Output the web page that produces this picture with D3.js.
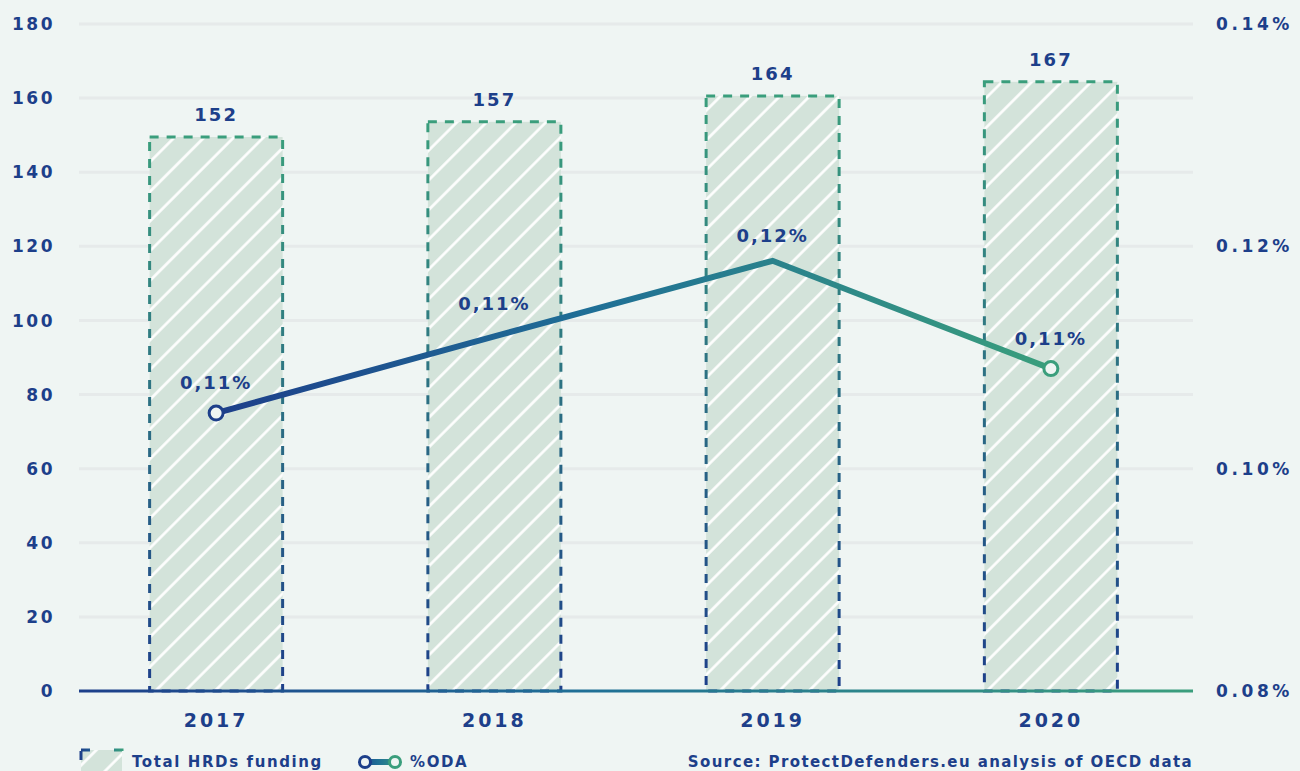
<!DOCTYPE html>
<html>
<head>
<meta charset="utf-8">
<script src="https://cdn.jsdelivr.net/npm/d3@7"></script>
<style>
  html, body { margin: 0; padding: 0; background: #eff5f3; }
  text { font-family: "DejaVu Sans", sans-serif; font-weight: bold; fill: #1d3f8a; }
</style>
</head>
<body>
<div class="chart"></div>
<script>
// data
const years = ["2017", "2018", "2019", "2020"];
const funding = [149.5, 153.6, 160.6, 164.4];       // bar heights (left axis)
const fundingLabels = ["152", "157", "164", "167"];
const oda = [0.1050, 0.1119, 0.1187, 0.1090];        // % ODA (right axis)
const odaLabels = ["0,11%", "0,11%", "0,12%", "0,11%"];
const leftTicks = [0, 20, 40, 60, 80, 100, 120, 140, 160, 180];
const rightTicks = [0.08, 0.10, 0.12, 0.14];
const legendLabels = ["Total HRDs funding", "%ODA"];
const sourceText = "Source: ProtectDefenders.eu analysis of OECD data";

const width = 1300, height = 771;
const margin = { top: 24, right: 107, bottom: 80, left: 79 };
const navy = "#1d3f8a", green = "#3a9e7c";

const svg = d3.select(".chart").append("svg")
    .attr("width", width)
    .attr("height", height);

const defs = svg.append("defs");

const hatch = defs.append("pattern")
    .attr("id", "hatch")
    .attr("patternUnits", "userSpaceOnUse")
    .attr("width", 21)
    .attr("height", 21)
    .attr("patternTransform", "rotate(45)");
hatch.append("rect").attr("width", 21).attr("height", 21).attr("fill", "#d3e3da");
hatch.append("line")
    .attr("x1", 10.5).attr("y1", 0).attr("x2", 10.5).attr("y2", 21)
    .attr("stroke", "#fff").attr("stroke-width", 2.6);

const vGrad = defs.append("linearGradient")
    .attr("id", "vgrad").attr("x1", 0).attr("y1", 0).attr("x2", 0).attr("y2", 1);
vGrad.append("stop").attr("offset", "0%").attr("stop-color", green);
vGrad.append("stop").attr("offset", "100%").attr("stop-color", navy);

x = d3.scaleBand()
    .domain(years)
    .range([77, 1190])
    .paddingInner(0.522)
    .paddingOuter(0.261);

y = d3.scaleLinear()
    .domain([0, 180])
    .range([height - margin.bottom, margin.top]);

y2 = d3.scaleLinear()
    .domain([0.08, 0.14])
    .range([height - margin.bottom, margin.top]);

const gridX0 = margin.left, gridX1 = width - margin.right;

function hGrad(id, x1, x2) {
    const g = defs.append("linearGradient")
        .attr("id", id)
        .attr("gradientUnits", "userSpaceOnUse")
        .attr("x1", x1).attr("y1", 0).attr("x2", x2).attr("y2", 0);
    g.append("stop").attr("offset", "0%").attr("stop-color", navy);
    g.append("stop").attr("offset", "45%").attr("stop-color", "#1f6f96");
    g.append("stop").attr("offset", "100%").attr("stop-color", green);
}
hGrad("lineGrad", x("2017") + x.bandwidth() / 2, x("2020") + x.bandwidth() / 2);
hGrad("baseGrad", gridX0, gridX1);
hGrad("legGrad", 358, 402);
hGrad("legBox", 80, 123);

// grid lines
svg.append("g")
    .selectAll("line")
    .data(leftTicks.slice(1))
    .join("line")
    .attr("x1", gridX0)
    .attr("x2", gridX1)
    .attr("y1", d => y(d))
    .attr("y2", d => y(d))
    .attr("stroke", "#e6eaea")
    .attr("stroke-width", 3);

// left axis
svg.append("g")
    .selectAll("text")
    .data(leftTicks)
    .join("text")
    .attr("x", 55)
    .attr("y", d => y(d))
    .attr("dy", "0.36em")
    .attr("text-anchor", "end")
    .style("font-size", "17px")
    .style("letter-spacing", "2.5px")
    .text(d => d);

// right axis
svg.append("g")
    .selectAll("text")
    .data(rightTicks)
    .join("text")
    .attr("x", 1216)
    .attr("y", d => y2(d))
    .attr("dy", "0.36em")
    .style("font-size", "17px")
    .style("letter-spacing", "3.6px")
    .text(d => d3.format(".2f")(d) + "%");

// bars
svg.append("g")
    .selectAll("rect")
    .data(funding)
    .join("rect")
    .attr("x", (d, i) => x(years[i]))
    .attr("y", d => y(d))
    .attr("width", x.bandwidth())
    .attr("height", d => y(0) - y(d))
    .attr("fill", "url(#hatch)")
    .attr("stroke", "url(#vgrad)")
    .attr("stroke-width", 3)
    .attr("stroke-dasharray", "9,8");

svg.append("g")
    .selectAll("text")
    .data(funding)
    .join("text")
    .attr("x", (d, i) => x(years[i]) + x.bandwidth() / 2)
    .attr("y", d => y(d) - 16)
    .attr("text-anchor", "middle")
    .style("font-size", "18px")
    .style("letter-spacing", "2px")
    .text((d, i) => fundingLabels[i]);

// baseline
svg.append("line")
    .attr("x1", gridX0).attr("x2", gridX1)
    .attr("y1", y(0)).attr("y2", y(0))
    .attr("stroke", "url(#baseGrad)")
    .attr("stroke-width", 3);

// year labels
svg.append("g")
    .selectAll("text")
    .data(years)
    .join("text")
    .attr("x", d => x(d) + x.bandwidth() / 2)
    .attr("y", 727)
    .attr("text-anchor", "middle")
    .style("font-size", "19px")
    .style("letter-spacing", "3px")
    .text(d => d);

// %ODA line
const line = d3.line()
    .x((d, i) => x(years[i]) + x.bandwidth() / 2)
    .y(d => y2(d));

svg.append("path")
    .datum(oda)
    .attr("d", line)
    .attr("fill", "none")
    .attr("stroke", "url(#lineGrad)")
    .attr("stroke-width", 6)
    .attr("stroke-linejoin", "miter");

svg.append("g")
    .selectAll("circle")
    .data([0, oda.length - 1])
    .join("circle")
    .attr("cx", i => x(years[i]) + x.bandwidth() / 2)
    .attr("cy", i => y2(oda[i]))
    .attr("r", 7)
    .attr("fill", "#eff5f3")
    .attr("stroke", i => i === 0 ? navy : green)
    .attr("stroke-width", 3);

const labelOffset = [31, 33, 25, 30];
svg.append("g")
    .selectAll("text")
    .data(oda)
    .join("text")
    .attr("x", (d, i) => x(years[i]) + x.bandwidth() / 2)
    .attr("y", (d, i) => y2(d) - labelOffset[i])
    .attr("dy", "0.36em")
    .attr("text-anchor", "middle")
    .style("font-size", "18px")
    .style("letter-spacing", "2px")
    .text((d, i) => odaLabels[i]);

// legend
const leg = svg.append("g");
leg.append("rect")
    .attr("x", 81).attr("y", 750)
    .attr("width", 41).attr("height", 30)
    .attr("fill", "url(#hatch)")
    .attr("stroke", "url(#legBox)")
    .attr("stroke-width", 3)
    .attr("stroke-dasharray", "9,24");
leg.append("text")
    .attr("x", 132).attr("y", 767)
    .style("font-size", "15px")
    .style("letter-spacing", "1.6px")
    .text(legendLabels[0]);
leg.append("line")
    .attr("x1", 365).attr("x2", 395)
    .attr("y1", 762).attr("y2", 762)
    .attr("stroke", "url(#legGrad)")
    .attr("stroke-width", 6);
leg.selectAll("circle")
    .data([365, 395])
    .join("circle")
    .attr("cx", d => d).attr("cy", 762).attr("r", 5.5)
    .attr("fill", "#eff5f3")
    .attr("stroke", (d, i) => i === 0 ? navy : green)
    .attr("stroke-width", 3);
leg.append("text")
    .attr("x", 410).attr("y", 767)
    .style("font-size", "15px")
    .style("letter-spacing", "1.6px")
    .text(legendLabels[1]);
leg.append("text")
    .attr("x", 1193).attr("y", 767)
    .attr("text-anchor", "end")
    .style("font-size", "15px")
    .style("letter-spacing", "1.4px")
    .text(sourceText);
</script>
</body>
</html>
